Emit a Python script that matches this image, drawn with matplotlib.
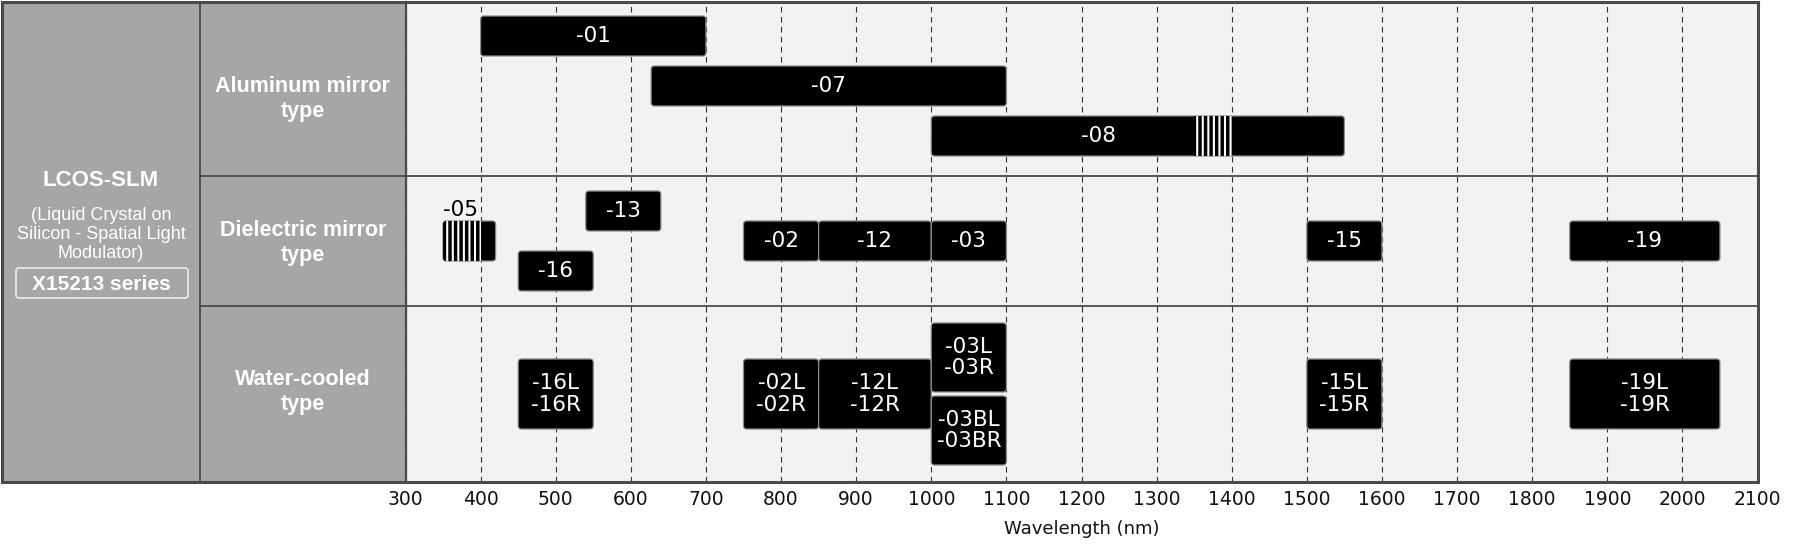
import matplotlib.pyplot as plt
from matplotlib.patches import Rectangle, FancyBboxPatch

# -------------------------------
# Data
# -------------------------------
row_names = ["Aluminum mirror\ntype", "Dielectric mirror\ntype", "Water-cooled\ntype"]

models = ["-01", "-07", "-08",
          "-05", "-13", "-16", "-02", "-12", "-03", "-15", "-19",
          "-16L\n-16R", "-02L\n-02R", "-12L\n-12R", "-03L\n-03R", "-03BL\n-03BR",
          "-15L\n-15R", "-19L\n-19R"]
wl_start = [400, 627, 1000,
            350, 540, 450, 750, 850, 1000, 1500, 1850,
            450, 750, 850, 1000, 1000, 1500, 1850]
wl_end = [700, 1100, 1550,
          420, 640, 550, 850, 1000, 1100, 1600, 2050,
          550, 850, 1000, 1100, 1100, 1600, 2050]
model_row = [0, 0, 0,
             1, 1, 1, 1, 1, 1, 1, 1,
             2, 2, 2, 2, 2, 2, 2]

# hatched (partial) ranges
striped = {"-05": (350, 400), "-08": (1350, 1400)}

wl_ticks = list(range(300, 2101, 100))

# -------------------------------
# Layout (figure pixels, y from top)
# -------------------------------
W, H = 1800, 555
TOP, BOT = 2, 482
COL1, COL2, RIGHT = 200, 405.5, 1757.5
row_edges = [TOP, 176, 306, BOT]
row_label_y = [99, 243, 392]

# vertical slot (top, bottom) for each bar, same order as models
lanes = {"a1": (16, 56), "a2": (66, 106), "a3": (116, 156),
         "d": (221, 261), "dhi": (191, 231), "dlo": (251, 291),
         "w": (359, 429), "whi": (323, 392), "wlo": (396, 465)}
model_lane = ["a1", "a2", "a3",
              "d", "dhi", "dlo", "d", "d", "d", "d", "d",
              "w", "w", "w", "whi", "wlo", "w", "w"]
# label x override (nm) where the text is not centred on the bar
label_x = {"-08": 1222}

GREY = "#a6a6a6"
BG = "#f2f2f2"
LINE = "#4a4a4a"

plt.rcParams["hatch.linewidth"] = 1.5
plt.rcParams["hatch.color"] = "white"

fig = plt.figure(figsize=(18, 5.55), dpi=100)

# ---- left header panel ----
panel = fig.add_axes([TOP / W, (H - BOT) / H, (COL2 - TOP) / W, (BOT - TOP) / H])
panel.set_xlim(TOP, COL2)
panel.set_ylim(BOT, TOP)
panel.set_xticks([])
panel.set_yticks([])
panel.set_facecolor(GREY)
for side in ["top", "left", "bottom"]:
    panel.spines[side].set_color(LINE)
    panel.spines[side].set_linewidth(2.2)
panel.spines["right"].set_visible(False)
panel.axvline(COL1, color=LINE, lw=1.3)
for y in row_edges[1:-1]:
    panel.plot([COL1, COL2], [y, y], color=LINE, lw=1.3)

sans = ["Liberation Sans", "DejaVu Sans"]
c1 = (TOP + COL1) / 2
panel.text(c1, 180, "LCOS-SLM", color="white", fontsize=16, fontweight="bold",
           family=sans, ha="center", va="center")
panel.text(c1, 234.5, "(Liquid Crystal on\nSilicon - Spatial Light\nModulator)",
           color="white", fontsize=13, family=sans, ha="center", va="center",
           linespacing=1.15)
panel.add_patch(FancyBboxPatch((16, 268), 172, 30,
                               boxstyle="round,pad=0,rounding_size=3",
                               fc="none", ec="#ececec", lw=1.2))
panel.text(c1, 284, "X15213 series", color="white", fontsize=15, fontweight="bold",
           family=sans, ha="center", va="center")

c2 = (COL1 + COL2) / 2
for name, yc in zip(row_names, row_label_y):
    panel.text(c2, yc, name, color="white", fontsize=15.5, fontweight="bold",
               family=sans, ha="center", va="center", linespacing=1.25)

# ---- wavelength chart ----
ax = fig.add_axes([COL2 / W, (H - BOT) / H, (RIGHT - COL2) / W, (BOT - TOP) / H])
ax.set_xlim(300, 2100)
ax.set_ylim(BOT, TOP)
ax.set_facecolor(BG)
ax.set_axisbelow(True)
ax.set_xticks(wl_ticks)
ax.set_yticks([])
ax.tick_params(axis="x", length=0, pad=6, labelsize=13.5, labelcolor="#111")
ax.grid(axis="x", color="#333", lw=0.8, linestyle=(0, (5, 4)))
for side in ["top", "right", "bottom"]:
    ax.spines[side].set_color(LINE)
    ax.spines[side].set_linewidth(2.2)
ax.spines["left"].set_color(LINE)
ax.spines["left"].set_linewidth(1.6)
for y in row_edges[1:-1]:
    ax.axhline(y, color=LINE, lw=1.3)
ax.set_xlabel("Wavelength (nm)", fontsize=13, labelpad=8, color="#111")

# keep rounded corners circular on screen
fig.canvas.draw()
p0 = ax.transData.transform((300, 0))
p1 = ax.transData.transform((400, 10))
aspect = abs((p1[0] - p0[0]) / 100) / abs((p1[1] - p0[1]) / 10)

for name, x0, x1, lane in zip(models, wl_start, wl_end, model_lane):
    y0, y1 = lanes[lane]
    box = FancyBboxPatch((x0, y0), x1 - x0, y1 - y0,
                         boxstyle="round,pad=0,rounding_size=4.5",
                         mutation_aspect=aspect,
                         fc="black", ec="#8a8a8a", lw=0.9, zorder=3)
    ax.add_patch(box)
    if name in striped:
        s0, s1 = striped[name]
        hatch = Rectangle((s0, y0), s1 - s0, y1 - y0, fc="black", ec="white",
                          lw=0, hatch="|||", zorder=3.5)
        ax.add_patch(hatch)
        hatch.set_clip_path(box)
    if name == "-05":
        ax.text(x0, y0 - 1, name, color="black", fontsize=15.5,
                ha="left", va="bottom", zorder=4)
        continue
    xc = label_x.get(name, (x0 + x1) / 2)
    ax.text(xc, (y0 + y1) / 2, name, color="white", fontsize=15.5,
            ha="center", va="center", linespacing=1.1, zorder=4)

fig.savefig("out.png", dpi=100)
